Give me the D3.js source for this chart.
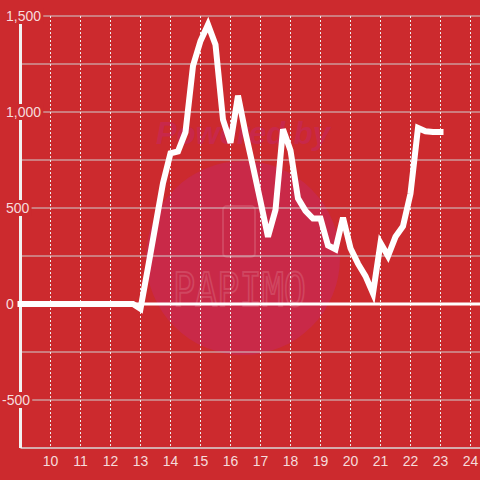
<!DOCTYPE html>
<html>
<head>
<meta charset="utf-8">
<script src="https://cdn.jsdelivr.net/npm/d3@7"></script>
<style>
  html, body { margin: 0; padding: 0; background: #cc2a2e; }
  svg { display: block; font-family: "Liberation Sans", Arial, sans-serif; }
</style>
</head>
<body>
<div id="chart"></div>
<script>
// hour of day, quarter-hour steps
const hours = [9, 9.25, 9.5, 9.75, 10, 10.25, 10.5, 10.75, 11, 11.25, 11.5, 11.75,
  12, 12.25, 12.5, 12.75, 13, 13.25, 13.5, 13.75, 14, 14.25, 14.5, 14.75,
  15, 15.25, 15.5, 15.75, 16, 16.25, 16.5, 16.75, 17, 17.25, 17.5, 17.75,
  18, 18.25, 18.5, 18.75, 19, 19.25, 19.5, 19.75, 20, 20.25, 20.5, 20.75,
  21, 21.25, 21.5, 21.75, 22, 22.25, 22.5, 22.75, 23];
const values = [0, 0, 0, 0, 0, 0, 0, 0, 0, 0, 0, 0,
  0, 0, 0, 0, -25, 190, 410, 630, 785, 795, 895, 1240,
  1370, 1455, 1350, 960, 840, 1085, 890, 715, 535, 350, 490, 910,
  800, 550, 485, 445, 445, 305, 285, 450, 290, 210, 145, 55,
  318, 250, 350, 405, 575, 917, 900, 896, 896];
const xTicks = [10, 11, 12, 13, 14, 15, 16, 17, 18, 19, 20, 21, 22, 23, 24];
const yGrid = [-750, -500, -250, 0, 250, 500, 750, 1000, 1250, 1500];
const yLabels = [-500, 0, 500, 1000, 1500];

const width = 480, height = 480;
const bg = '#cc2a2e';
const textColor = '#f6dcdc';

const x = d3.scaleLinear().domain([9, 24]).range([20.5, 470.5]);
const y = d3.scaleLinear().domain([-750, 1500]).range([448, 16]);

const svg = d3.select('#chart').append('svg').attr('width', width).attr('height', height);
svg.append('rect').attr('width', width).attr('height', height).attr('fill', bg);

// watermark
const wm = svg.append('g');
wm.append('circle').attr('cx', 243).attr('cy', 258).attr('r', 97).attr('fill', '#c92948');
wm.append('text').attr('x', 243).attr('y', 144).attr('text-anchor', 'middle')
  .attr('font-size', 31).attr('font-weight', 'bold').attr('font-style', 'italic')
  .attr('fill', '#c8284a').text('Powered by');
wm.append('rect').attr('x', 223).attr('y', 206).attr('width', 32).attr('height', 51).attr('rx', 4)
  .attr('fill', 'none').attr('stroke', '#d04660').attr('stroke-width', 2);
wm.append('text').attr('x', 173).attr('y', 306)
  .attr('font-family', '"DejaVu Sans Mono", monospace').attr('font-size', 46)
  .attr('textLength', 133).attr('lengthAdjust', 'spacingAndGlyphs')
  .attr('fill', 'none').attr('stroke', '#d04660').attr('stroke-width', 2).text('PAPIMO');

// horizontal grid
svg.append('g').selectAll('line').data(yGrid.filter(d => d !== -750 && d !== 0)).join('line')
  .attr('x1', x(9)).attr('x2', width)
  .attr('y1', d => y(d)).attr('y2', d => y(d))
  .attr('stroke', '#cfcfcf').attr('stroke-width', 1);

// vertical dashed grid
svg.append('g').selectAll('line').data(xTicks).join('line')
  .attr('x1', d => x(d)).attr('x2', d => x(d))
  .attr('y1', y(1500)).attr('y2', y(-750) - 2)
  .attr('stroke', '#eeeeee').attr('stroke-width', 1).attr('stroke-dasharray', '2,2');

// bottom axis line
svg.append('line').attr('x1', x(9)).attr('x2', width).attr('y1', y(-750)).attr('y2', y(-750))
  .attr('stroke', '#d8d8d8').attr('stroke-width', 1.5);

// zero line
svg.append('line').attr('x1', x(9)).attr('x2', width).attr('y1', y(0)).attr('y2', y(0))
  .attr('stroke', '#ffffff').attr('stroke-width', 3);

// y axis
svg.append('line').attr('x1', x(9)).attr('x2', x(9)).attr('y1', y(1500)).attr('y2', y(-750))
  .attr('stroke', '#f2f2f2').attr('stroke-width', 3);

// data line
const line = d3.line().x((d, i) => x(hours[i])).y(d => y(d));
svg.append('path').datum(values).attr('d', line)
  .attr('fill', 'none').attr('stroke', '#ffffff').attr('stroke-width', 6)
  .attr('stroke-linejoin', 'miter').attr('stroke-linecap', 'square');

// y labels with masking background
const fmt = d3.format(',');
const yl = svg.append('g').selectAll('g').data(yLabels).join('g')
  .attr('transform', d => `translate(${d < 0 ? 2 : 6},${y(d)})`);
yl.append('text').attr('dy', '0.35em').attr('font-size', 14).attr('fill', textColor)
  .text(d => d < 0 ? '-' + fmt(-d) : fmt(d))
  .each(function () {
    const b = this.getBBox();
    d3.select(this.parentNode).insert('rect', 'text')
      .attr('x', b.x - 2).attr('y', -8).attr('width', b.width + 4).attr('height', 16)
      .attr('fill', bg);
  });

// x labels
svg.append('g').selectAll('text').data(xTicks).join('text')
  .attr('x', d => x(d)).attr('y', 466).attr('text-anchor', 'middle')
  .attr('font-size', 14).attr('fill', textColor).text(d => d);
</script>
</body>
</html>
